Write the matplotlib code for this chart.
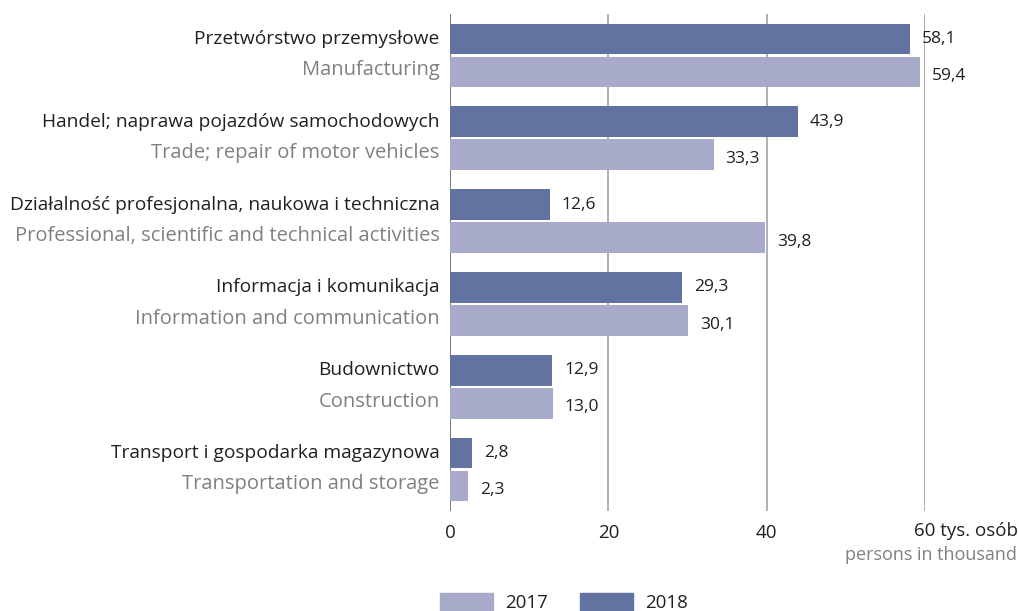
import matplotlib.pyplot as plt
from matplotlib.patches import Rectangle

plt.rcParams["font.family"] = ["Open Sans", "DejaVu Sans"]

labels_pl = [
    "Przetwórstwo przemysłowe",
    "Handel; naprawa pojazdów samochodowych",
    "Działalność profesjonalna, naukowa i techniczna",
    "Informacja i komunikacja",
    "Budownictwo",
    "Transport i gospodarka magazynowa",
]
labels_en = [
    "Manufacturing",
    "Trade; repair of motor vehicles",
    "Professional, scientific and technical activities",
    "Information and communication",
    "Construction",
    "Transportation and storage",
]
values_2018 = [58.1, 43.9, 12.6, 29.3, 12.9, 2.8]
values_2017 = [59.4, 33.3, 39.8, 30.1, 13.0, 2.3]
xticks = [0, 20, 40, 60]
years = ["2017", "2018"]

dark = "#6272a1"
light = "#a7abc9"
txt_dark = "#231f20"
txt_grey = "#808080"
fs = 13.5

fig = plt.figure(figsize=(10.2, 6.11), dpi=100)
ax = fig.add_axes([450 / 1020, 1 - 511 / 611, 475 / 1020, 497 / 611])

pos = list(range(len(labels_pl)))
h = 0.37
off = 0.2
ax.barh([p - off for p in pos], values_2018, height=h, color=dark, zorder=3)
ax.barh([p + off for p in pos], values_2017, height=h, color=light, zorder=3)

for p, v in zip(pos, values_2018):
    ax.text(v + 1.5, p - off, f"{v:.1f}".replace(".", ","), va="center",
            ha="left", fontsize=12.5, color=txt_dark)
for p, v in zip(pos, values_2017):
    ax.text(v + 1.5, p + off + 0.05, f"{v:.1f}".replace(".", ","), va="center",
            ha="left", fontsize=12.5, color=txt_dark)

for p, a, b in zip(pos, labels_pl, labels_en):
    ax.text(-1.3, p - off, a, va="center", ha="right", fontsize=13.8, color=txt_dark)
    ax.text(-1.3, p + off - 0.02, b, va="center", ha="right", fontsize=14.5, color=txt_grey)

ax.set_xlim(0, 60)
ax.set_ylim(len(pos) - 0.5, -0.5)
ax.set_yticks([])
ax.set_xticks(xticks)
ax.set_xticklabels([str(t) for t in xticks[:-1]] + [""], fontsize=fs, color=txt_dark)
ax.tick_params(axis="x", length=0, pad=9)
for s in ax.spines.values():
    s.set_visible(False)
for t in xticks:
    ax.axvline(t, color="#555555" if t == 0 else "#9a9a9a", lw=1.1, zorder=1)

fig.text(914 / 1020, 1 - 531 / 611, f"{xticks[-1]} tys. osób", ha="left", va="center",
         fontsize=fs, color=txt_dark)
fig.text(1017 / 1020, 1 - 555 / 611, "persons in thousand", ha="right",
         va="center", fontsize=13, color=txt_grey)

# legend
for x0, col, yr in [(440, light, years[0]), (580, dark, years[1])]:
    fig.patches.append(Rectangle((x0 / 1020, 1 - 611 / 611), 53 / 1020, 18 / 611,
                                 transform=fig.transFigure, color=col))
    fig.text((x0 + 65) / 1020, 1 - 603 / 611, yr, ha="left", va="center",
             fontsize=fs, color=txt_dark)

fig.savefig("out.png", dpi=100)
